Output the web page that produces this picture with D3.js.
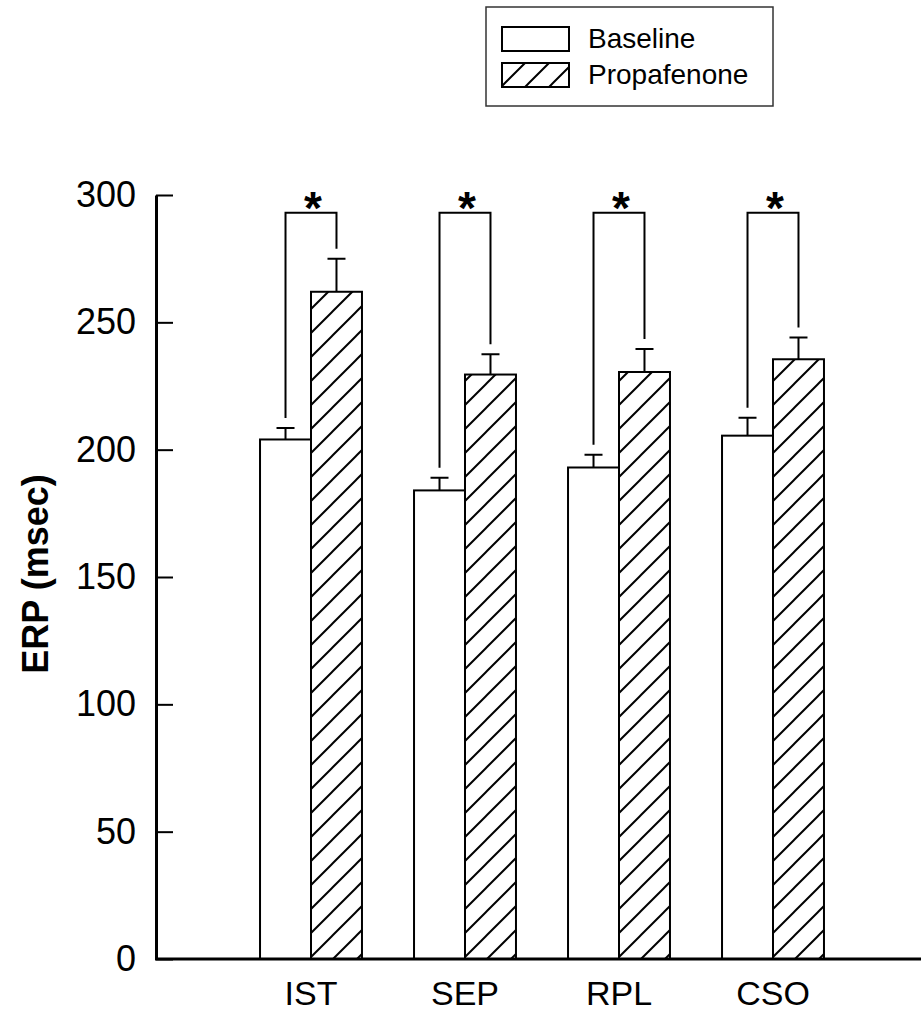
<!DOCTYPE html>
<html>
<head>
<meta charset="utf-8">
<script src="https://cdn.jsdelivr.net/npm/d3@7"></script>
<style>
  html, body { margin: 0; padding: 0; background: #fff; }
  svg { display: block; font-family: "Liberation Sans", Arial, sans-serif; }
</style>
</head>
<body>
<div id="chart"></div>
<script>
// values
const categories = ["IST", "SEP", "RPL", "CSO"];
const baseline = [204, 184, 193, 205.5];
const baselineErr = [4.5, 5, 5, 7];
const propafenone = [262, 229.5, 230.5, 235.5];
const propafenoneErr = [13, 8, 9, 8.5];
const bracketLevel = 293;
const yTicks = [0, 50, 100, 150, 200, 250, 300];
const seriesNames = ["Baseline", "Propafenone"];

const W = 921, H = 1014;
const svg = d3.select("#chart").append("svg").attr("width", W).attr("height", H);

// hatch pattern
const defs = svg.append("defs");
const pat = defs.append("pattern")
  .attr("id", "hatch")
  .attr("patternUnits", "userSpaceOnUse")
  .attr("width", 24).attr("height", 24);
pat.append("rect").attr("width", 24).attr("height", 24).attr("fill", "#fff");
pat.append("path")
  .attr("d", "M0,24L24,0M-12,12L12,-12M12,36L36,12")
  .attr("stroke", "#000").attr("stroke-width", 2);

const y = d3.scaleLinear().domain([0, 300]).range([959, 195]);
const x0 = d3.scaleBand().domain(categories).range([234, 850])
  .paddingInner(0.338).paddingOuter(0.169);
const x1 = d3.scaleBand().domain(seriesNames).range([0, x0.bandwidth()]);

const rows = categories.map((c, i) => ({
  cat: c,
  vals: [
    { name: "Baseline", v: baseline[i], e: baselineErr[i] },
    { name: "Propafenone", v: propafenone[i], e: propafenoneErr[i] }
  ]
}));

// bars
const grp = svg.append("g").selectAll("g").data(rows).enter().append("g")
  .attr("transform", d => `translate(${x0(d.cat)},0)`);

grp.selectAll("rect").data(d => d.vals).enter().append("rect")
  .attr("x", d => x1(d.name))
  .attr("y", d => y(d.v))
  .attr("width", x1.bandwidth())
  .attr("height", d => y(0) - y(d.v))
  .attr("fill", d => d.name === "Baseline" ? "#fff" : "url(#hatch)")
  .attr("stroke", "#000").attr("stroke-width", 2);

// error bars
const capW = 18;
grp.selectAll("path.err").data(d => d.vals).enter().append("path")
  .attr("class", "err")
  .attr("d", d => {
    const cx = x1(d.name) + x1.bandwidth() / 2;
    return `M${cx},${y(d.v)}V${y(d.v + d.e)}M${cx - capW / 2},${y(d.v + d.e)}H${cx + capW / 2}`;
  })
  .attr("fill", "none").attr("stroke", "#000").attr("stroke-width", 2);

// significance brackets
const gap = 10;
grp.append("path")
  .attr("d", d => {
    const a = d.vals[0], b = d.vals[1];
    const xa = x1(a.name) + x1.bandwidth() / 2;
    const xb = x1(b.name) + x1.bandwidth() / 2;
    return `M${xa},${y(a.v + a.e) - gap}V${y(bracketLevel)}H${xb}V${y(b.v + b.e) - gap}`;
  })
  .attr("fill", "none").attr("stroke", "#000").attr("stroke-width", 2);

grp.append("text")
  .attr("x", x0.bandwidth() / 2 + 2)
  .attr("y", y(bracketLevel) + 11)
  .attr("text-anchor", "middle")
  .attr("font-size", 46).attr("font-weight", "bold")
  .text("*");

// y axis
const yAxis = svg.append("g").attr("transform", "translate(156,0)")
  .call(d3.axisLeft(y).tickValues(yTicks).tickSizeInner(-17).tickSizeOuter(0).tickPadding(20));
yAxis.select(".domain").attr("stroke-width", 3);
yAxis.selectAll(".tick line").attr("stroke-width", 2);
yAxis.selectAll("text").attr("font-size", 36).attr("fill", "#000")
  .attr("font-family", "Liberation Sans, Arial, sans-serif");

// x axis line spans to the right edge
svg.append("line")
  .attr("x1", 155).attr("x2", W)
  .attr("y1", y(0)).attr("y2", y(0))
  .attr("stroke", "#000").attr("stroke-width", 3);

const xAxis = svg.append("g").attr("transform", `translate(0,${y(0)})`)
  .call(d3.axisBottom(x0).tickSize(0).tickPadding(22));
xAxis.select(".domain").remove();
xAxis.selectAll("text").attr("font-size", 34).attr("fill", "#000")
  .attr("font-family", "Liberation Sans, Arial, sans-serif");

// y title
svg.append("text")
  .attr("transform", "rotate(-90)")
  .attr("x", -574).attr("y", 48)
  .attr("text-anchor", "middle")
  .attr("font-size", 36).attr("font-weight", "bold")
  .text("ERP (msec)");

// legend
const leg = svg.append("g");
leg.append("rect")
  .attr("x", 486).attr("y", 7).attr("width", 287).attr("height", 99)
  .attr("fill", "#fff").attr("stroke", "#333").attr("stroke-width", 1.5);
const legItems = leg.selectAll("g").data(seriesNames).enter().append("g")
  .attr("transform", (d, i) => `translate(0,${i * 36})`);
legItems.append("rect")
  .attr("x", 502).attr("y", 27).attr("width", 67).attr("height", 24)
  .attr("fill", d => d === "Baseline" ? "#fff" : "url(#hatch)")
  .attr("stroke", "#000").attr("stroke-width", 2);
legItems.append("text")
  .attr("x", 588).attr("y", 48)
  .attr("font-size", 28)
  .text(d => d);
</script>
</body>
</html>
